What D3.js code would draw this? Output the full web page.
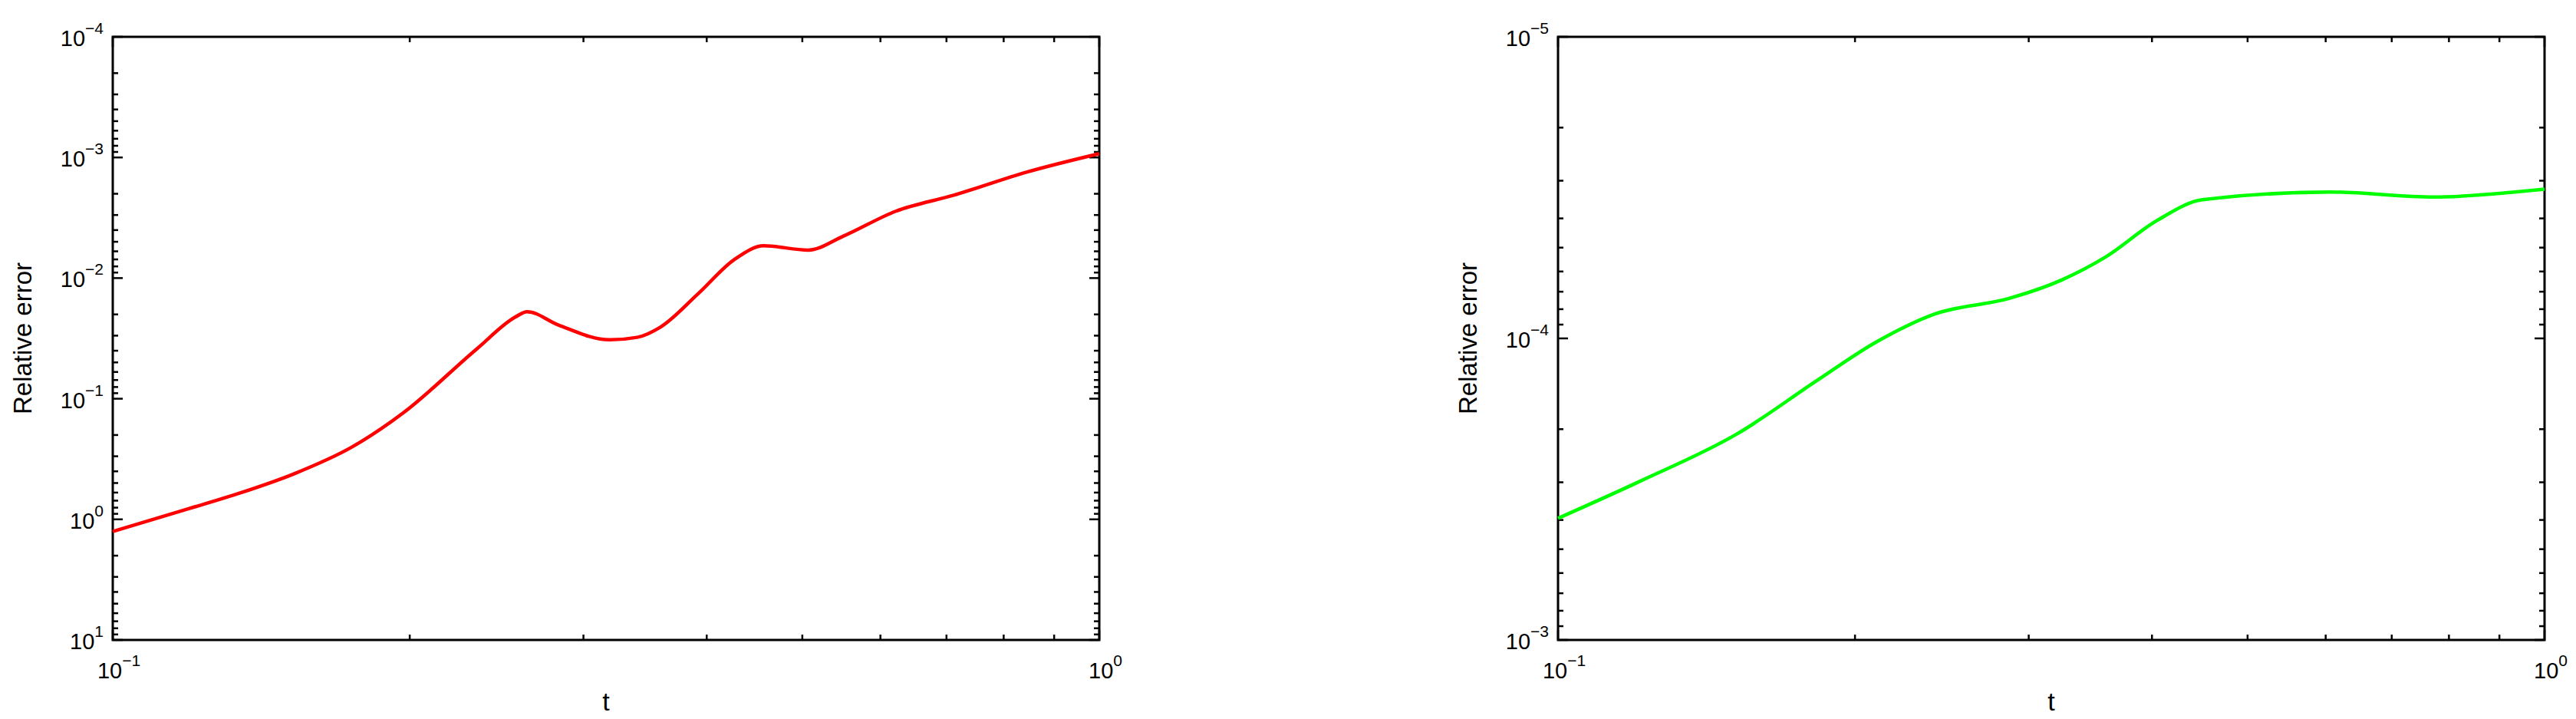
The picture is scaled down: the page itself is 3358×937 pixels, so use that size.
<!DOCTYPE html>
<html>
<head>
<meta charset="utf-8">
<script src="https://cdn.jsdelivr.net/npm/d3@7"></script>
<style>
body { margin: 0; background: #fff; }
text { font-family: "Liberation Sans", Arial, sans-serif; fill: #000; }
</style>
</head>
<body>
<script>
// red curve (left panel)
let redT = [0.1, 0.118, 0.135, 0.1526, 0.175, 0.197, 0.234, 0.256, 0.263, 0.283, 0.319, 0.34, 0.359, 0.392, 0.427, 0.457, 0.507, 0.55, 0.622, 0.713, 0.845, 1.0];
let redErr = [1.26, 0.84, 0.6, 0.42, 0.25, 0.131, 0.0385, 0.021, 0.019, 0.0245, 0.0325, 0.031, 0.0255, 0.0135, 0.00698, 0.0054, 0.00586, 0.0045, 0.00279, 0.00205, 0.00132, 0.00093];
// green curve (right panel)
let greenT = [0.1, 0.121, 0.152, 0.183, 0.21, 0.241, 0.287, 0.324, 0.359, 0.405, 0.45, 0.606, 0.772, 0.933, 1.0];
let greenErr = [3.95e-4, 2.98e-4, 2.07e-4, 1.38e-4, 1.03e-4, 8.3e-5, 7.36e-5, 6.4e-5, 5.37e-5, 4.06e-5, 3.47e-5, 3.27e-5, 3.4e-5, 3.27e-5, 3.2e-5];
let leftYExps = [-4, -3, -2, -1, 0, 1];
let rightYExps = [-5, -4, -3];
let xExps = [-1, 0];

let W = 3358, H = 937;
let svg = d3.select("body").append("svg").attr("width", W).attr("height", H);

function panel(x0, x1, y0, y1, yExps, tArr, eArr, color) {
  let x = d3.scaleLog().domain([0.1, 1]).range([x0, x1]);
  let y = d3.scaleLog().domain([Math.pow(10, yExps[0]), Math.pow(10, yExps[yExps.length - 1])]).range([y0, y1]);
  let g = svg.append("g");

  // ticks on all four sides, pointing inward
  let ymin = y.domain()[0], ymax = y.domain()[1];
  let yt = y.ticks().filter(v => v >= ymin * 0.999 && v <= ymax * 1.001);
  yt.forEach(v => {
    let major = Math.abs(Math.log10(v) - Math.round(Math.log10(v))) < 1e-6;
    let len = major ? 13 : 7;
    g.append("line").attr("x1", x0).attr("x2", x0 + len).attr("y1", y(v)).attr("y2", y(v)).attr("stroke", "#000").attr("stroke-width", 2.5);
    g.append("line").attr("x1", x1).attr("x2", x1 - len).attr("y1", y(v)).attr("y2", y(v)).attr("stroke", "#000").attr("stroke-width", 2.5);
  });
  let xt = x.ticks().filter(v => v >= 0.0999 && v <= 1.001);
  xt.forEach(v => {
    let major = Math.abs(Math.log10(v) - Math.round(Math.log10(v))) < 1e-6;
    let len = major ? 13 : 7;
    g.append("line").attr("x1", x(v)).attr("x2", x(v)).attr("y1", y1).attr("y2", y1 - len).attr("stroke", "#000").attr("stroke-width", 2.5);
    g.append("line").attr("x1", x(v)).attr("x2", x(v)).attr("y1", y0).attr("y2", y0 + len).attr("stroke", "#000").attr("stroke-width", 2.5);
  });

  g.append("rect").attr("x", x0).attr("y", y0).attr("width", x1 - x0).attr("height", y1 - y0)
    .attr("fill", "none").attr("stroke", "#000").attr("stroke-width", 3);

  // y tick labels
  yExps.forEach(e => {
    let t = g.append("text").attr("x", x0 - 12).attr("y", y(Math.pow(10, e)) + 12)
      .attr("text-anchor", "end").attr("font-size", 29);
    t.append("tspan").text("10");
    t.append("tspan").attr("dy", -16).attr("font-size", 21).text(e < 0 ? "\u2212" + (-e) : e);
  });
  // x tick labels
  xExps.forEach(e => {
    let t = g.append("text").attr("x", x(Math.pow(10, e)) + 8).attr("y", y1 + 50)
      .attr("text-anchor", "middle").attr("font-size", 29);
    t.append("tspan").text("10");
    t.append("tspan").attr("dy", -16).attr("font-size", 21).text(e < 0 ? "\u2212" + (-e) : e);
  });

  g.append("text").attr("x", (x0 + x1) / 2).attr("y", y1 + 92).attr("text-anchor", "middle")
    .attr("font-size", 34).text("t");
  g.append("text").attr("transform", "translate(" + (x0 - 106) + "," + ((y0 + y1) / 2) + ") rotate(-90)")
    .attr("text-anchor", "middle").attr("font-size", 33).text("Relative error");

  let line = d3.line().x(d => x(d[0])).y(d => y(d[1])).curve(d3.curveMonotoneX);
  g.append("path").datum(d3.zip(tArr, eArr)).attr("d", line)
    .attr("fill", "none").attr("stroke", color).attr("stroke-width", 4.5);
}

panel(147, 1433, 48, 834, leftYExps, redT, redErr, "#ff0000");
panel(2031, 3317, 48, 834, rightYExps, greenT, greenErr, "#00ff00");
</script>
</body>
</html>
